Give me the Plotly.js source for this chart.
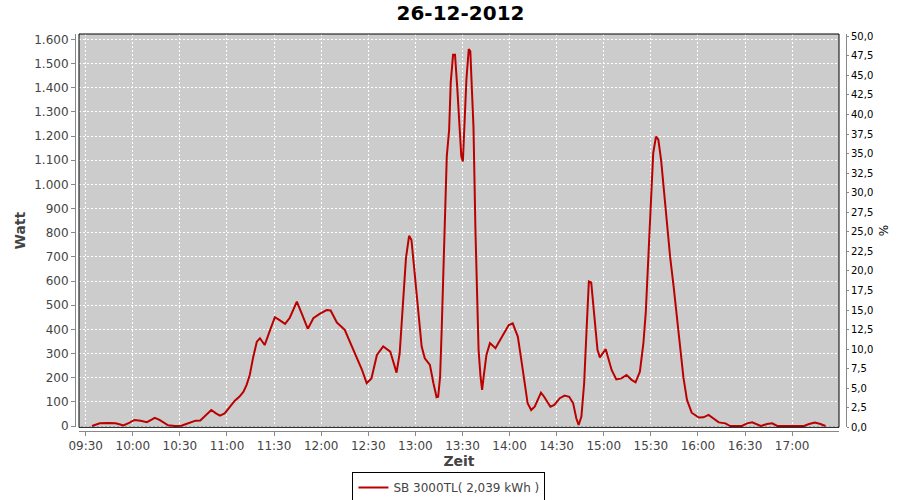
<!DOCTYPE html>
<html>
<head>
<meta charset="utf-8">
<script src="https://cdn.plot.ly/plotly-3.0.1.min.js"></script>
<style>html,body{margin:0;padding:0;background:#fff;}#chart{width:900px;height:500px;}</style>
</head>
<body>
<div id="chart"></div>
<script>
const chartTitle = '26-12-2012';
const seriesName = 'SB 3000TL( 2,039 kWh )';
const day = '2012-12-26';
const times = ['09:34','09:39','09:44','09:49','09:52','09:54','09:58','10:01','10:05','10:09',
'10:12','10:14','10:17','10:20:30','10:22:30','10:27','10:31','10:34','10:36:30','10:40',
'10:43','10:45','10:48','10:50','10:53','10:55:30','10:58:30','11:02','11:05','11:08',
'11:10:30','11:12:30','11:14:30','11:16:45','11:19','11:21','11:24','11:27:30','11:30:30','11:33',
'11:37','11:40','11:44:30','11:47:30','11:51:30','11:55','11:59','12:03:30','12:06','12:10',
'12:15','12:20:30','12:26','12:29','12:32','12:35:30','12:39:30','12:44','12:48','12:50',
'12:52:30','12:54','12:56','12:57:30','12:59:45','13:02','13:04','13:06','13:09:15','13:11:30',
'13:13:30','13:14:30','13:15:45','13:16:45','13:17:45','13:19','13:20','13:21:30','13:22:30','13:24',
'13:25:15','13:26:45','13:28','13:29:15','13:30:15','13:31:15','13:32:30','13:34','13:35','13:36',
'13:37','13:38:15','13:39:15','13:40:15','13:41:30','13:42:30','13:43:30','13:45:15','13:47:30','13:51',
'13:55:15','13:59:30','14:02','14:05:15','14:07:30','14:09:30','14:11:30','14:13:45','14:16','14:20',
'14:22','14:26','14:28:30','14:32','14:35','14:38','14:40:30','14:42:30','14:44','14:45:45',
'14:47:30','14:49','14:50:30','14:52','14:54','14:56','14:57:30','15:01:15','15:05','15:08',
'15:11:15','15:14:30','15:17:45','15:20:15','15:23','15:25:15','15:26:45','15:28:45','15:30:30','15:31:30',
'15:33:15','15:34:45','15:36:30','15:38','15:40','15:42:15','15:44:30','15:46:30','15:48:30','15:50:45',
'15:53','15:56','16:00:30','16:03:30','16:06:45','16:10','16:13:15','16:17:30','16:20:30','16:28',
'16:31:15','16:34:30','16:37:45','16:40','16:44','16:47:15','16:50:30','17:07:30','17:10:45','17:14:30',
'17:18','17:21:15'];
const watts = [0,11,12,11,6,2,14,25,22,16,
26,34,25,11,3,0,1,8,14,22,
23,36,55,66,52,43,52,80,105,122,
142,170,211,287,349,363,335,398,450,440,
423,448,515,467,402,446,464,480,478,428,
398,315,232,177,197,294,329,308,221,301,
536,695,787,770,618,467,329,280,253,177,
119,121,204,398,646,922,1116,1226,1420,1537,
1537,1392,1226,1116,1095,1226,1433,1560,1551,1392,
1240,812,494,315,204,149,204,294,343,322,
370,418,425,370,273,177,94,66,80,138,
121,80,87,115,126,121,94,32,4,39,
177,391,598,594,467,315,284,318,232,193,
197,211,191,181,225,343,470,770,991,1130,
1198,1185,1102,991,853,701,577,453,329,200,
108,55,35,36,46,32,15,11,0,0,
11,15,7,0,8,11,0,0,8,14,
8,0];

const font = 'DejaVu Sans, Verdana, sans-serif';
const trace = {
  x: times.map(t => day + ' ' + (t.length === 5 ? t + ':00' : t)),
  y: watts,
  type: 'scatter', mode: 'lines', name: seriesName,
  line: {color: '#bb0000', width: 2},
  hoverinfo: 'skip'
};
const dummyRight = {x: [day + ' 12:00:00'], y: [null], yaxis: 'y2', type: 'scatter', mode: 'lines', showlegend: false, hoverinfo: 'skip'};

const layout = {
  width: 900, height: 500,
  paper_bgcolor: '#ffffff', plot_bgcolor: '#cccccc',
  separators: ',.',
  margin: {l: 75, r: 54, t: 34, b: 69, pad: 0, autoexpand: false},
  font: {family: font, color: '#444444', size: 12},
  title: {text: '<b>' + chartTitle + '</b>', font: {family: font, size: 20, color: '#000000'},
          x: 0.5, xref: 'paper', xanchor: 'center', y: 1 - 13/500, yref: 'container', yanchor: 'middle'},
  showlegend: true,
  legend: {orientation: 'h', x: 0.485, xanchor: 'center', y: -0.1033, yanchor: 'top',
           bordercolor: '#000000', borderwidth: 1, bgcolor: '#ffffff', itemwidth: 30,
           font: {family: font, size: 12, color: '#444444'}},
  xaxis: {
    type: 'date', domain: [4/771, 764/771], anchor: 'free', position: 0,
    range: [day + ' 09:25:44', day + ' 17:29:50'],
    tick0: day + ' 09:30:00', dtick: 1800000, tickformat: '%H:%M',
    showgrid: true, gridcolor: '#ffffff', gridwidth: 1, griddash: '2px,2px',
    showline: true, linecolor: '#888888', linewidth: 1,
    ticks: 'outside', ticklen: 4, tickcolor: '#888888',
    tickfont: {family: font, size: 12, color: '#444444'},
    zeroline: false,
    title: {text: '<b>Zeit</b>', font: {family: font, size: 14, color: '#444444'}, standoff: 2}
  },
  yaxis: {
    domain: [3.7/397, 1], anchor: 'free', position: 0,
    range: [-5.4, 1622.4], dtick: 100, tick0: 0, tickformat: ',.0f',
    showgrid: true, gridcolor: '#ffffff', gridwidth: 1, griddash: '2px,2px',
    showline: true, linecolor: '#888888', linewidth: 1,
    ticks: 'outside', ticklen: 4, tickcolor: '#888888',
    tickfont: {family: font, size: 12, color: '#444444'},
    zeroline: false,
    title: {text: '<b>Watt</b>', font: {family: font, size: 14, color: '#444444'}, standoff: 4}
  },
  yaxis2: {
    overlaying: 'y', side: 'right', anchor: 'free', position: 1,
    range: [0, 50.3], dtick: 2.5, tick0: 0, tickformat: '.1f',
    showgrid: false, zeroline: false,
    showline: true, linecolor: '#888888', linewidth: 1,
    ticks: 'outside', ticklen: 2, tickcolor: '#888888',
    tickfont: {family: font, size: 10, color: '#000000'},
    title: {text: '%', font: {family: font, size: 12, color: '#000000'}, standoff: 7}
  },
  shapes: [{type: 'rect', xref: 'x domain', yref: 'y domain', x0: 0, x1: 1, y0: 0, y1: 1,
            line: {color: '#000000', width: 1}, fillcolor: 'rgba(0,0,0,0)', layer: 'above'}]
};

Plotly.newPlot('chart', [trace, dummyRight], layout, {displayModeBar: false, staticPlot: true});
</script>
</body>
</html>
